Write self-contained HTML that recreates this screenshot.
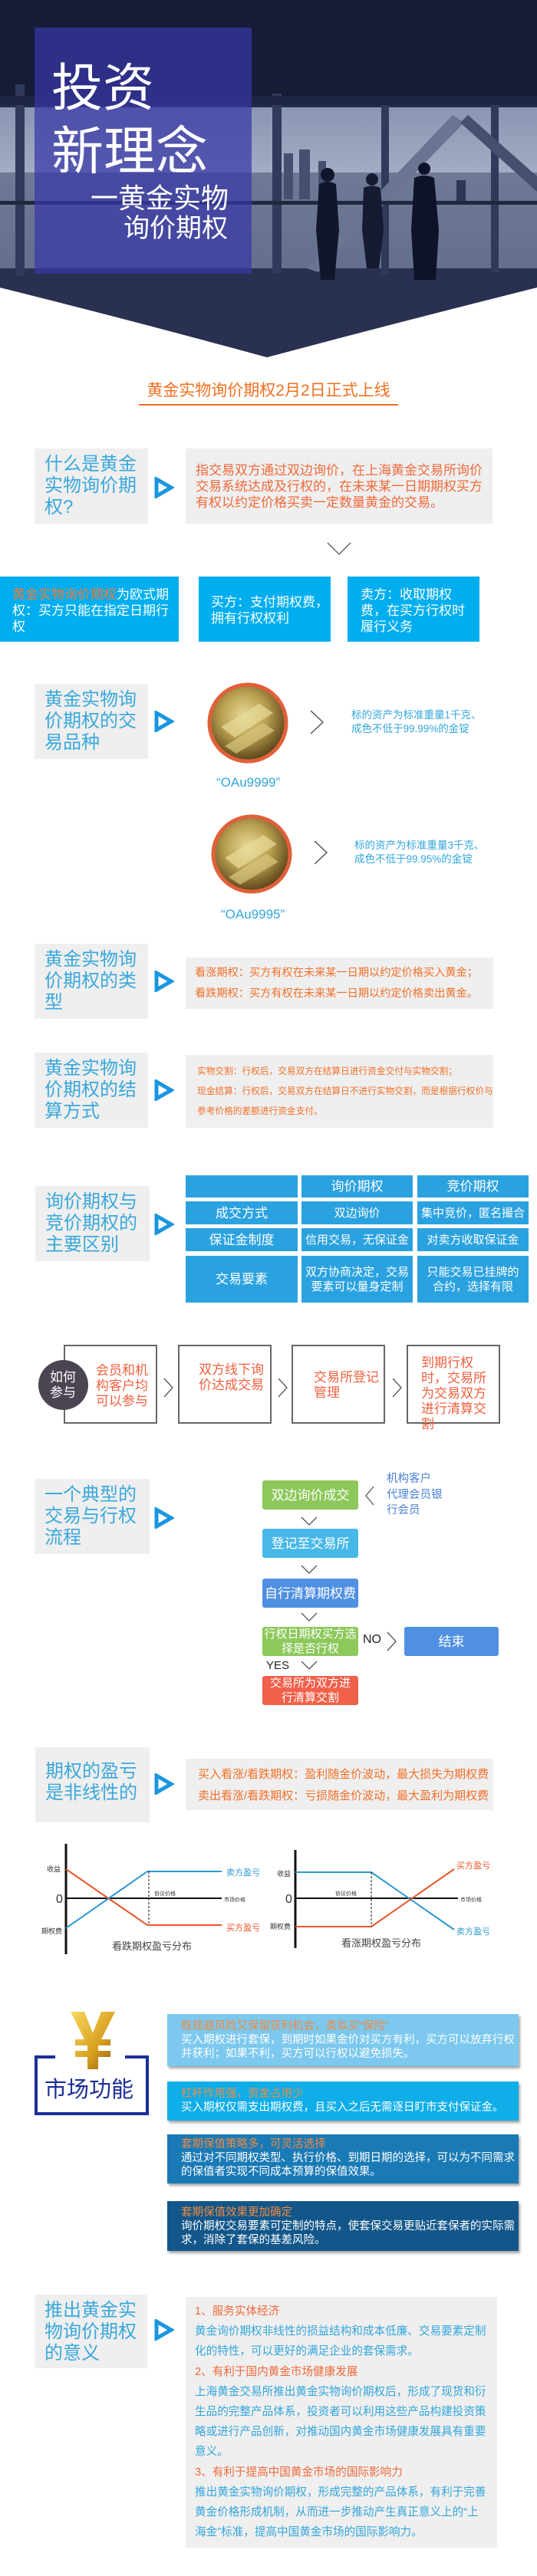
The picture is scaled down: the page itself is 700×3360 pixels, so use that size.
<!DOCTYPE html>
<html><head><meta charset="utf-8">
<style>
*{margin:0;padding:0;box-sizing:border-box}
body{width:700px;height:3360px;background:#fff;position:relative;overflow:hidden;font-family:"Liberation Sans","Noto Sans CJK SC",sans-serif}
.a{position:absolute}
.gb{position:absolute;background:#efefef;color:#3aa8dc;font-size:24px;line-height:28px;padding:7px 0 0 13px;width:148px;height:98px}
.rb{position:absolute;background:#efefef;color:#ef6a3a;font-size:17px;line-height:21px}
.tri{position:absolute;width:26px;height:28px}
.bb{position:absolute;background:#00aeef;color:#fff;font-size:17px;line-height:21px}
.tc{position:absolute;background:#2ba2e0;color:#fff;display:flex;align-items:center;justify-content:center;text-align:center;font-size:15px;line-height:19px}
.pb{position:absolute;border:2px solid #666;width:122px;height:103px;color:#ef6040;font-size:17px;line-height:20px}
.fl{position:absolute;left:342px;width:125px;height:38px;border-radius:3px;color:#fff;display:flex;align-items:center;justify-content:center;text-align:center;font-size:17px;line-height:19px}
.card{position:absolute;left:218px;width:458px;color:#fff;font-size:14.5px;line-height:18px;padding-left:18px;box-shadow:2px 3px 3px rgba(0,0,0,.35)}
.card b{font-weight:normal;color:#f08a40;display:block}
</style></head><body>

<svg class="a" style="left:0;top:0" width="700" height="470">
<defs>
<clipPath id="hc"><path d="M0,0H700V375Q520,420 348,466Q180,420 0,375Z"/></clipPath>
<linearGradient id="sky" x1="0" y1="0" x2="0" y2="1"><stop offset="0" stop-color="#8a96b2"/><stop offset="0.4" stop-color="#a2acc4"/><stop offset="1" stop-color="#5e6988"/></linearGradient>
</defs>
<g clip-path="url(#hc)">
<rect width="700" height="470" fill="#232a48"/>
<rect x="0" y="0" width="700" height="130" fill="#161c36"/>
<rect x="0" y="140" width="700" height="210" fill="url(#sky)"/>
<rect x="0" y="225" width="700" height="125" fill="#66718e" opacity="0.85"/>
<rect x="370" y="200" width="12" height="60" fill="#46506e"/><rect x="390" y="195" width="14" height="65" fill="#46506e"/><rect x="415" y="210" width="10" height="50" fill="#46506e"/><rect x="595" y="235" width="12" height="32" fill="#2e3756"/>
<rect x="0" y="350" width="700" height="120" fill="#2a3150"/>
<rect x="355" y="122" width="12" height="235" fill="#303a5a"/><rect x="497" y="128" width="10" height="230" fill="#303a5a"/><rect x="640" y="130" width="10" height="225" fill="#303a5a"/><rect x="20" y="110" width="12" height="250" fill="#303a5a"/>
<rect x="0" y="125" width="700" height="12" fill="#1e2542"/>
<polygon points="400,350 590,150 605,160 415,355" fill="#6a7592"/>
<polygon points="610,150 700,230 700,250 600,160" fill="#46506e"/>
<rect x="0" y="262" width="700" height="5" fill="#20283f"/>
<circle cx="427" cy="228" r="9" fill="#12162c"/><path d="M416,240 Q427,234 438,240 L442,300 L436,365 L418,365 L412,300Z" fill="#12162c"/>
<circle cx="485" cy="234" r="8" fill="#161a32"/><path d="M474,245 Q485,240 496,245 L500,300 L494,350 L478,350 L472,300Z" fill="#161a32"/>
<circle cx="553" cy="220" r="8" fill="#0f1329"/><path d="M540,232 Q553,226 566,232 L572,300 L568,365 L540,365 L536,300Z" fill="#0f1329"/>
<rect x="45" y="36" width="283" height="321" fill="#3838a6" opacity="0.72"/>
</g>
<g fill="#fff" font-family="Liberation Sans,Noto Sans CJK SC,sans-serif">
<text x="67" y="138" font-size="67">投资</text>
<text x="67" y="221" font-size="68">新理念</text>
<text x="118" y="271" font-size="36">一黄金实物</text>
<text x="161" y="309" font-size="34">询价期权</text>
</g>
</svg>

<div class="a" style="left:181px;top:496px;width:338px;text-align:center;color:#f07020;font-size:21px;line-height:28px;white-space:nowrap">黄金实物询价期权2月2日正式上线</div>
<div class="a" style="left:181px;top:527px;width:338px;height:2px;background:#f07020"></div>

<div class="gb" style="left:45px;top:585px">什么是黄金实物询价期权?</div>
<svg class="tri" style="left:201px;top:622px" viewBox="0 0 26 28"><polygon points="3,3 22,14 3,25" fill="none" stroke="#1a96e0" stroke-width="5"/></svg>
<div class="rb" style="left:242px;top:585px;width:400px;height:98px;padding:18px 0 0 13px">指交易双方通过双边询价，在上海黄金交易所询价交易系统达成及行权的，在未来某一日期期权买方有权以约定价格买卖一定数量黄金的交易。</div>
<svg class="a" style="left:426px;top:707px" width="32" height="18"><polyline points="1,1 16,16 31,1" fill="none" stroke="#666" stroke-width="1.5"/></svg>

<div class="bb" style="left:0;top:752px;width:233px;height:85px;padding:13px 6px 0 16px"><span style="color:#f07a3a">黄金实物询价期权</span>为欧式期权：买方只能在指定日期行权</div>
<div class="bb" style="left:259px;top:752px;width:172px;height:85px;padding:23px 0 0 16px">买方：支付期权费，拥有行权权利</div>
<div class="bb" style="left:453px;top:752px;width:172px;height:85px;padding:13px 12px 0 17px">卖方：收取期权费，在买方行权时履行义务</div>

<div class="gb" style="left:45px;top:892px">黄金实物询价期权的交易品种</div>
<svg class="tri" style="left:201px;top:927px" viewBox="0 0 26 28"><polygon points="3,3 22,14 3,25" fill="none" stroke="#1a96e0" stroke-width="5"/></svg>
<svg class="a" style="left:268px;top:888px" width="112" height="112"><defs><radialGradient id="g1" cx="0.45" cy="0.4" r="0.6"><stop offset="0" stop-color="#e8d898"/><stop offset="0.5" stop-color="#b8a050"/><stop offset="1" stop-color="#5a4218"/></radialGradient></defs><ellipse cx="55" cy="55" rx="50" ry="50" fill="url(#g1)" stroke="#e0603a" stroke-width="5"/><path d="M20,60 L70,30 L88,42 L38,74Z" fill="#e8dc9a" opacity="0.7"/><path d="M25,85 L75,55 L90,65 L40,95Z" fill="#d8c880" opacity="0.7"/></svg>
<svg class="a" style="left:402px;top:926px" width="22" height="32"><polyline points="3,1 19,16 3,31" fill="none" stroke="#555" stroke-width="1.5"/></svg>
<div class="a" style="left:458px;top:924px;color:#32a6dc;font-size:13.5px;line-height:18px">标的资产为标准重量1千克、<br>成色不低于99.99%的金锭</div>
<div class="a" style="left:282px;top:1010px;color:#32a6dc;font-size:17px;line-height:22px">“OAu9999”</div>

<svg class="a" style="left:273px;top:1061px" width="112" height="108"><ellipse cx="55" cy="53" rx="50" ry="49" fill="url(#g1)" stroke="#e0603a" stroke-width="5"/><path d="M20,58 L70,28 L88,40 L38,72Z" fill="#e8dc9a" opacity="0.7"/><path d="M25,83 L75,53 L90,63 L40,93Z" fill="#d8c880" opacity="0.7"/></svg>
<svg class="a" style="left:407px;top:1096px" width="22" height="32"><polyline points="3,1 19,16 3,31" fill="none" stroke="#555" stroke-width="1.5"/></svg>
<div class="a" style="left:462px;top:1094px;color:#32a6dc;font-size:13.5px;line-height:18px">标的资产为标准重量3千克、<br>成色不低于99.95%的金锭</div>
<div class="a" style="left:288px;top:1182px;color:#32a6dc;font-size:17px;line-height:22px">“OAu9995”</div>

<div class="gb" style="left:45px;top:1231px">黄金实物询价期权的类型</div>
<svg class="tri" style="left:201px;top:1266px" viewBox="0 0 26 28"><polygon points="3,3 22,14 3,25" fill="none" stroke="#1a96e0" stroke-width="5"/></svg>
<div class="rb" style="left:242px;top:1249px;width:401px;height:67px;padding:7px 0 0 12px;color:#f07028;line-height:27px;font-size:14.2px;white-space:nowrap">看涨期权：买方有权在未来某一日期以约定价格买入黄金；<br>看跌期权：买方有权在未来某一日期以约定价格卖出黄金。</div>

<div class="gb" style="left:45px;top:1373px">黄金实物询价期权的结算方式</div>
<svg class="tri" style="left:201px;top:1408px" viewBox="0 0 26 28"><polygon points="3,3 22,14 3,25" fill="none" stroke="#1a96e0" stroke-width="5"/></svg>
<div class="rb" style="left:242px;top:1376px;width:401px;height:95px;padding:9px 0 0 15px;color:#f07028;font-size:11.7px;line-height:26px">实物交割：行权后，交易双方在结算日进行资金交付与实物交割；<br>现金结算：行权后，交易双方在结算日不进行实物交割，而是根据行权价与参考价格的差额进行资金支付。</div>

<div class="gb" style="left:46px;top:1547px;width:149px">询价期权与竞价期权的主要区别</div>
<svg class="tri" style="left:201px;top:1583px" viewBox="0 0 26 28"><polygon points="3,3 22,14 3,25" fill="none" stroke="#1a96e0" stroke-width="5"/></svg>
<div class="tc" style="left:242px;top:1533px;width:146px;height:29px"></div>
<div class="tc" style="left:393px;top:1533px;width:145px;height:29px;font-size:17px">询价期权</div>
<div class="tc" style="left:544px;top:1533px;width:145px;height:29px;font-size:17px">竞价期权</div>
<div class="tc" style="left:242px;top:1567px;width:146px;height:30px;font-size:17px">成交方式</div>
<div class="tc" style="left:393px;top:1567px;width:145px;height:30px">双边询价</div>
<div class="tc" style="left:544px;top:1567px;width:145px;height:30px">集中竞价，匿名撮合</div>
<div class="tc" style="left:242px;top:1602px;width:146px;height:30px;font-size:17px">保证金制度</div>
<div class="tc" style="left:393px;top:1602px;width:145px;height:30px">信用交易，无保证金</div>
<div class="tc" style="left:544px;top:1602px;width:145px;height:30px">对卖方收取保证金</div>
<div class="tc" style="left:242px;top:1638px;width:146px;height:61px;font-size:17px">交易要素</div>
<div class="tc" style="left:393px;top:1638px;width:145px;height:61px">双方协商决定，交易<br>要素可以量身定制</div>
<div class="tc" style="left:544px;top:1638px;width:145px;height:61px">只能交易已挂牌的<br>合约，选择有限</div>

<div class="pb" style="left:83px;top:1754px;padding:22px 0 0 40px">会员和机构客户均可以参与</div>
<div class="a" style="left:50px;top:1774px;width:65px;height:65px;border-radius:50%;background:#4a4550;color:#fff;font-size:17px;line-height:20px;padding:13px 0 0 15px">如何<br>参与</div>
<div class="pb" style="left:232px;top:1754px;padding:21px 0 0 25px">双方线下询价达成交易</div>
<div class="pb" style="left:380px;top:1754px;padding:31px 0 0 27px">交易所登记管理</div>
<div class="pb" style="left:530px;top:1754px;padding:12px 0 0 17px">到期行权时，交易所为交易双方进行清算交割</div>
<svg class="a" style="left:213px;top:1797px" width="14" height="26"><polyline points="1,1 12,13 1,25" fill="none" stroke="#555" stroke-width="1.3"/></svg>
<svg class="a" style="left:362px;top:1797px" width="14" height="26"><polyline points="1,1 12,13 1,25" fill="none" stroke="#555" stroke-width="1.3"/></svg>
<svg class="a" style="left:511px;top:1797px" width="14" height="26"><polyline points="1,1 12,13 1,25" fill="none" stroke="#555" stroke-width="1.3"/></svg>

<div class="gb" style="left:45px;top:1929px;width:150px">一个典型的交易与行权流程</div>
<svg class="tri" style="left:201px;top:1966px" viewBox="0 0 26 28"><polygon points="3,3 22,14 3,25" fill="none" stroke="#1a96e0" stroke-width="5"/></svg>
<div class="fl" style="top:1931px;background:#8cc85a">双边询价成交</div>
<div class="fl" style="top:1994px;background:#48b8e8">登记至交易所</div>
<div class="fl" style="top:2059px;background:#5090e2">自行清算期权费</div>
<div class="fl" style="top:2122px;background:#8cc85a;font-size:15px">行权日期权买方选<br>择是否行权</div>
<div class="fl" style="top:2186px;background:#f0604a;font-size:15px">交易所为双方进<br>行清算交割</div>
<div class="fl" style="left:527px;top:2122px;width:123px;background:#5090e2">结束</div>
<svg class="a" style="left:392px;top:1978px" width="22" height="12"><polyline points="1,1 11,11 21,1" fill="none" stroke="#555" stroke-width="1.3"/></svg>
<svg class="a" style="left:392px;top:2041px" width="22" height="12"><polyline points="1,1 11,11 21,1" fill="none" stroke="#555" stroke-width="1.3"/></svg>
<svg class="a" style="left:392px;top:2103px" width="22" height="12"><polyline points="1,1 11,11 21,1" fill="none" stroke="#555" stroke-width="1.3"/></svg>
<svg class="a" style="left:392px;top:2166px" width="22" height="12"><polyline points="1,1 11,11 21,1" fill="none" stroke="#555" stroke-width="1.3"/></svg>
<svg class="a" style="left:476px;top:1938px" width="12" height="26"><polyline points="11,1 1,13 11,25" fill="none" stroke="#555" stroke-width="1.3"/></svg>
<svg class="a" style="left:504px;top:2128px" width="13" height="26"><polyline points="1,1 12,13 1,25" fill="none" stroke="#555" stroke-width="1.3"/></svg>
<div class="a" style="left:473px;top:2130px;font-size:16px;color:#222">NO</div>
<div class="a" style="left:347px;top:2164px;font-size:15px;color:#222">YES</div>
<div class="a" style="left:504px;top:1919px;color:#4a82d2;font-size:14.5px;line-height:20.5px">机构客户<br>代理会员银<br>行会员</div>

<div class="gb" style="left:46px;top:2279px;width:149px;padding-top:18px">期权的盈亏是非线性的</div>
<svg class="tri" style="left:201px;top:2313px" viewBox="0 0 26 28"><polygon points="3,3 22,14 3,25" fill="none" stroke="#1a96e0" stroke-width="5"/></svg>
<div class="rb" style="left:242px;top:2294px;width:401px;height:67px;padding:7px 0 0 16px;color:#f07028;font-size:15px;line-height:28px;white-space:nowrap">买入看涨/看跌期权：盈利随金价波动，最大损失为期权费<br>卖出看涨/看跌期权：亏损随金价波动，最大盈利为期权费</div>

<svg class="a" style="left:0;top:2400px" width="700" height="160" font-family="Liberation Sans,Noto Sans CJK SC,sans-serif">
<line x1="86" y1="5" x2="86" y2="149" stroke="#111" stroke-width="3"/>
<line x1="86" y1="76" x2="289" y2="76" stroke="#111" stroke-width="2"/>
<polyline points="86,38 192,111 289,111" fill="none" stroke="#e8552a" stroke-width="2"/>
<polyline points="86,115 192,41 289,41" fill="none" stroke="#2a9ad0" stroke-width="2"/>
<line x1="194" y1="41" x2="194" y2="111" stroke="#111" stroke-dasharray="3,2"/>
<text x="61" y="41" font-size="9" fill="#333">收益</text>
<text x="73" y="82" font-size="16" fill="#333">0</text>
<text x="54" y="122" font-size="9" fill="#333">期权费</text>
<text x="295" y="46" font-size="11" fill="#2a9ad0">卖方盈亏</text>
<text x="292" y="80" font-size="7" fill="#333">市场价格</text>
<text x="201" y="72" font-size="7" fill="#333">协议价格</text>
<text x="295" y="118" font-size="11" fill="#e8552a">买方盈亏</text>
<text x="146" y="143" font-size="13" fill="#444">看跌期权盈亏分布</text>
<line x1="385" y1="13" x2="385" y2="141" stroke="#111" stroke-width="3"/>
<line x1="385" y1="76" x2="597" y2="76" stroke="#111" stroke-width="2"/>
<polyline points="385,42 484,42 592,117" fill="none" stroke="#2a9ad0" stroke-width="2"/>
<polyline points="385,113 484,113 592,38" fill="none" stroke="#e8552a" stroke-width="2"/>
<line x1="484" y1="42" x2="484" y2="113" stroke="#111" stroke-dasharray="3,2"/>
<text x="361" y="47" font-size="9" fill="#333">收益</text>
<text x="372" y="82" font-size="16" fill="#333">0</text>
<text x="352" y="116" font-size="9" fill="#333">期权费</text>
<text x="437" y="72" font-size="7" fill="#333">协议价格</text>
<text x="595" y="37" font-size="11" fill="#e8552a">买方盈亏</text>
<text x="600" y="80" font-size="7" fill="#333">市场价格</text>
<text x="595" y="123" font-size="11" fill="#2a9ad0">卖方盈亏</text>
<text x="445" y="139" font-size="13" fill="#444">看涨期权盈亏分布</text>
</svg>

<svg class="a" style="left:40px;top:2620px" width="160" height="145" font-family="Liberation Sans,Noto Sans CJK SC,sans-serif">
<defs><linearGradient id="yg" x1="0" y1="0" x2="1" y2="1"><stop offset="0" stop-color="#f8d860"/><stop offset="0.6" stop-color="#d8a020"/><stop offset="1" stop-color="#8a5a10"/></linearGradient></defs>
<path d="M52,4 L70,4 L81,32 L92,4 L110,4 L92,40 L104,40 L104,48 L88,48 L88,55 L104,55 L104,63 L88,63 L88,79 L74,79 L74,63 L58,63 L58,55 L74,55 L74,48 L58,48 L58,40 L70,40Z" fill="url(#yg)"/>
<path d="M32,63 L7,63 L7,137 L152,137 L152,63 L123,63" fill="none" stroke="#1c2f98" stroke-width="4"/>
<text x="18" y="115" font-size="29" fill="#1c2f98">市场功能</text>
</svg>
<div class="card" style="top:2627px;height:68px;background:#7cc8ee;padding-top:7px">
<b>既规避风险又保留获利机会，类似买“保险”</b>买入期权进行套保，到期时如果金价对买方有利，买方可以放弃行权并获利；如果不利，买方可以行权以避免损失。</div>
<div class="card" style="top:2715px;height:51px;background:#10aee8;padding-top:7px">
<b>杠杆作用强，资金占用少</b>买入期权仅需支出期权费，且买入之后无需逐日盯市支付保证金。</div>
<div class="card" style="top:2784px;height:64px;background:#1a7ab6;padding-top:4px">
<b>套期保值策略多，可灵活选择</b>通过对不同期权类型、执行价格、到期日期的选择，可以为不同需求的保值者实现不同成本预算的保值效果。</div>
<div class="card" style="top:2871px;height:65px;background:#13578a;padding-top:6px">
<b>套期保值效果更加确定</b>询价期权交易要素可定制的特点，使套保交易更贴近套保者的实际需求，消除了套保的基差风险。</div>

<div class="gb" style="left:45px;top:2993px;width:147px;height:96px">推出黄金实物询价期权的意义</div>
<svg class="tri" style="left:201px;top:3025px" viewBox="0 0 26 28"><polygon points="3,3 22,14 3,25" fill="none" stroke="#1a96e0" stroke-width="5"/></svg>
<div class="rb" style="left:242px;top:2996px;width:406px;height:327px;padding:6px 12px 0 12px;color:#32a6dc;font-size:14.6px;line-height:26.2px">
<span style="color:#ef6a3a">1、服务实体经济</span><br>黄金询价期权非线性的损益结构和成本低廉、交易要素定制化的特性，可以更好的满足企业的套保需求。<br><span style="color:#ef6a3a">2、有利于国内黄金市场健康发展</span><br>上海黄金交易所推出黄金实物询价期权后，形成了现货和衍生品的完整产品体系，投资者可以利用这些产品构建投资策略或进行产品创新，对推动国内黄金市场健康发展具有重要意义。<br><span style="color:#ef6a3a">3、有利于提高中国黄金市场的国际影响力</span><br>推出黄金实物询价期权，形成完整的产品体系，有利于完善黄金价格形成机制，从而进一步推动产生真正意义上的“上海金”标准，提高中国黄金市场的国际影响力。</div>

</body></html>
